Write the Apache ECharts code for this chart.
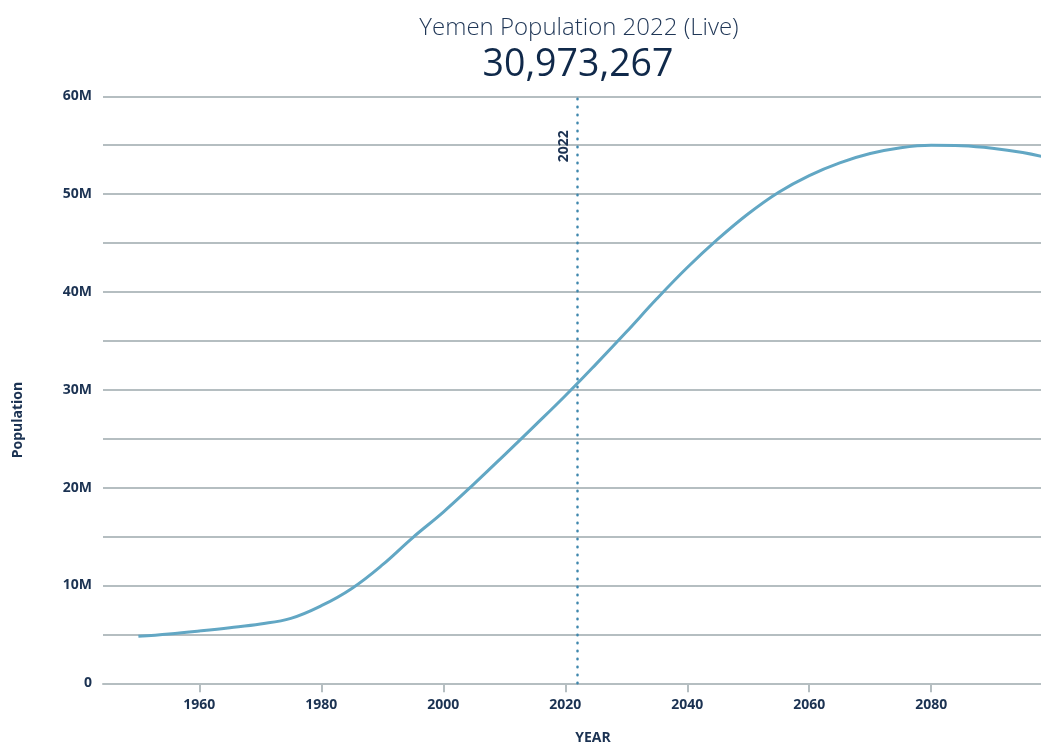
<!DOCTYPE html>
<html>
<head>
<meta charset="utf-8">
<title>Yemen Population</title>
<script src="https://cdn.jsdelivr.net/npm/echarts@6/dist/echarts.min.js"></script>
<style>
  html, body { margin: 0; padding: 0; background: #ffffff; }
  #chart { width: 1041px; height: 745px; }
</style>
</head>
<body>
<div id="chart"></div>
<script>
// Population by year (millions), 1950–2100
const years = [1950, 1955, 1960, 1965, 1970, 1975, 1980, 1985, 1990, 1995,
               2000, 2005, 2010, 2015, 2020, 2025, 2030, 2035, 2040, 2045,
               2050, 2055, 2060, 2065, 2070, 2075, 2080, 2085, 2090, 2095, 2100];
const populationM = [4.80, 5.05, 5.35, 5.68, 6.06, 6.64, 7.93, 9.7, 12.1, 14.9,
                     17.5, 20.36, 23.33, 26.34, 29.39, 32.6, 35.9, 39.3, 42.5, 45.4,
                     48.0, 50.2, 51.9, 53.2, 54.15, 54.75, 55.0, 54.95, 54.7, 54.25, 53.6];

const xTickYears = [1960, 1980, 2000, 2020, 2040, 2060, 2080];
const yTickLabels = { 0: '0', 10: '10M', 20: '20M', 30: '30M', 40: '40M', 50: '50M', 60: '60M' };

const currentYear = 2022;
const titleText = 'Yemen Population 2022 (Live)';
const livePopulation = 30973267;

const gridColor = '#b5bec1';
const inkColor = '#1b3252';
const lineColor = '#62a7c4';

const seriesData = years.map((y, i) => [y, populationM[i] * 1e6]);

const chart = echarts.init(document.getElementById('chart'), null, { renderer: 'canvas' });

chart.setOption({
  backgroundColor: '#ffffff',
  animation: false,
  grid: { left: 103, right: 0, top: 96.3, bottom: 61.7, containLabel: false },
  xAxis: {
    type: 'value',
    min: 1944.2,
    max: 2098,
    splitLine: { show: false },
    axisLine: { show: true, lineStyle: { color: gridColor, width: 2 } },
    axisTick: { show: true, customValues: xTickYears, length: 9, lineStyle: { color: gridColor, width: 2 } },
    axisLabel: {
      customValues: xTickYears,
      margin: 15,
      color: inkColor,
      fontFamily: 'Open Sans',
      fontWeight: 'bold',
      fontSize: 14,
      formatter: v => String(v)
    }
  },
  yAxis: {
    type: 'value',
    min: 0,
    max: 60e6,
    interval: 5e6,
    axisLine: { show: false },
    axisTick: { show: false },
    splitLine: { show: true, lineStyle: { color: gridColor, width: 2 } },
    axisLabel: {
      margin: 11,
      color: inkColor,
      fontFamily: 'Open Sans',
      fontWeight: 'bold',
      fontSize: 14,
      formatter: v => {
        const m = Math.round(v / 1e6);
        return Object.prototype.hasOwnProperty.call(yTickLabels, m) ? yTickLabels[m] : '';
      }
    }
  },
  series: [{
    type: 'line',
    data: seriesData,
    smooth: 0.4,
    showSymbol: false,
    clip: true,
    lineStyle: { color: lineColor, width: 3 },
    markLine: {
      silent: true,
      symbol: ['none', 'none'],
      lineStyle: { color: '#3f87ad', type: [0.5, 7.5], width: 2.5, cap: 'round' },
      label: {
        show: true,
        position: 'insideEndTop',
        formatter: String(currentYear),
        color: inkColor,
        fontFamily: 'Open Sans',
        fontWeight: 'bold',
        fontSize: 14,
        distance: [34, 6]
      },
      data: [{ xAxis: currentYear }]
    }
  }],
  graphic: [
    {
      type: 'text',
      style: {
        x: 579, y: 28, text: titleText,
        textAlign: 'center', textVerticalAlign: 'middle',
        fill: '#1f3656', font: '300 24px "Open Sans"'
      }
    },
    {
      type: 'text',
      style: {
        x: 578, y: 65, text: livePopulation.toLocaleString('en-US'),
        textAlign: 'center', textVerticalAlign: 'middle',
        fill: '#10294a', font: '400 37.5px "Open Sans"'
      }
    },
    {
      type: 'text',
      x: 18, y: 420, rotation: Math.PI / 2,
      style: {
        x: 0, y: 0, text: 'Population',
        textAlign: 'center', textVerticalAlign: 'middle',
        fill: inkColor, font: 'bold 14px "Open Sans"'
      }
    },
    {
      type: 'text',
      style: {
        x: 593, y: 738, text: 'YEAR',
        textAlign: 'center', textVerticalAlign: 'middle',
        fill: inkColor, font: 'bold 14px "Open Sans"'
      }
    }
  ]
});
</script>
</body>
</html>
